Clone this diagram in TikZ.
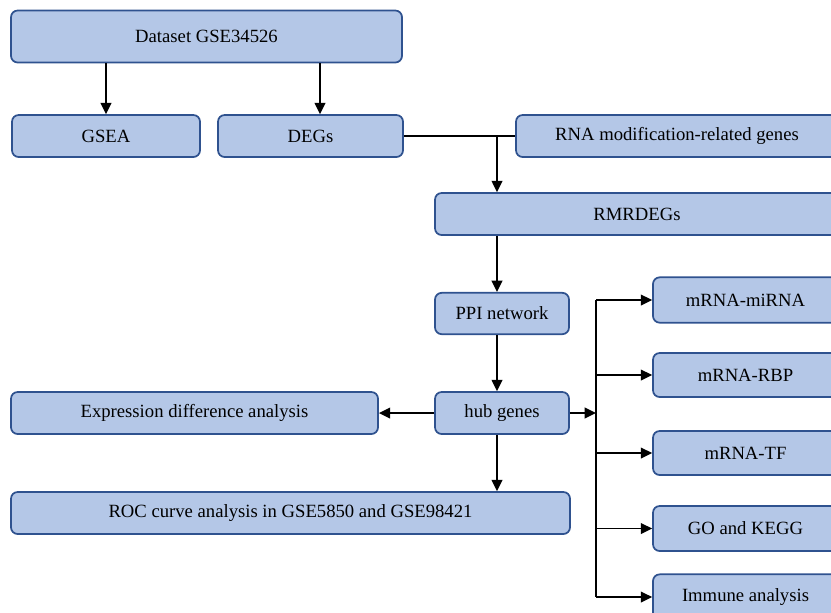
\documentclass[tikz,border=0pt]{standalone}
\usepackage{fontspec}
\setmainfont{Liberation Serif}
\usetikzlibrary{arrows.meta}
\definecolor{boxfill}{RGB}{180,199,231}
\definecolor{boxline}{RGB}{47,82,143}

\begin{document}
\begin{tikzpicture}[x=0.75pt,y=0.75pt,yscale=-1,xscale=1,
  box/.style={draw=boxline,fill=boxfill,line width=1.3pt,rounded corners=5pt,inner sep=0pt,font=\fontsize{14}{16}\selectfont},
  arr/.style={line width=1.4pt,-{Triangle[length=8.5pt,width=8pt]}},
  lin/.style={line width=1.4pt}]
%set diagram to 831 x 612
\useasboundingbox (0,0) rectangle (831,612);
\clip (0,0) rectangle (831,612);

%Rounded Rect: dataset
\node [box,minimum width=293.25pt,minimum height=39pt] (data) at (206.5,36.5) {Dataset GSE34526};
%Rounded Rect: GSEA
\node [box,minimum width=141pt,minimum height=31.5pt] (gsea) at (106,136) {GSEA};
%Rounded Rect: DEGs
\node [box,minimum width=138.75pt,minimum height=31.5pt] (degs) at (310.5,136) {DEGs};
%Rounded Rect: RNA modification
\node [box,minimum width=241.5pt,minimum height=31.5pt] (rnamod) at (677,136) {RNA modification-related genes};
%Rounded Rect: RMRDEGs
\node [box,minimum width=303pt,minimum height=31.5pt] (rmr) at (637,214) {RMRDEGs};
%Rounded Rect: PPI
\node [box,minimum width=100.5pt,minimum height=31pt] (ppi) at (502,313.5) {PPI network};
%Rounded Rect: hub genes
\node [box,minimum width=100.5pt,minimum height=31.5pt] (hub) at (502,413) {hub genes};
%Rounded Rect: expression
\node [box,minimum width=275.25pt,minimum height=31.5pt] (expr) at (194.5,413) {Expression difference analysis};
%Rounded Rect: ROC
\node [box,minimum width=419.25pt,minimum height=31.5pt] (roc) at (290.5,513) {ROC curve analysis in GSE5850 and GSE98421};
%Rounded Rect: right column
\node [box,minimum width=138.75pt,minimum height=34pt] (mirna) at (745.5,300) {mRNA-miRNA};
\node [box,minimum width=138.75pt,minimum height=33pt] (rbp) at (745.5,375) {mRNA-RBP};
\node [box,minimum width=138.75pt,minimum height=33pt] (tf) at (745.5,453) {mRNA-TF};
\node [box,minimum width=138.75pt,minimum height=33.75pt] (go) at (745.5,528.5) {GO and KEGG};
\node [box,minimum width=138.75pt,minimum height=34pt] (immune) at (745.5,597) {Immune analysis};

%Straight Lines: top split
\path (degs.north) ++(9.5,0) coordinate (degsin);
\draw [arr] (data.south -| gsea.north) -- (gsea.north);
\draw [arr] (data.south -| degsin) -- (degsin);
%Straight Lines: merge
\coordinate (merge) at (497,136);
\draw [lin] (degs.east) -- (rnamod.west);
\draw [arr] (merge) -- (merge |- rmr.north);
\draw [arr] (merge |- rmr.south) -- (merge |- ppi.north);
\draw [arr] (merge |- ppi.south) -- (merge |- hub.north);
\draw [arr] (hub.west) -- (expr.east);
\draw [arr] (merge |- hub.south) -- (merge |- roc.north);
%Straight Lines: trunk
\coordinate (split) at (596,413);
\draw [arr] (hub.east) -- (split);
\draw [lin] (split |- mirna.west) -- (split |- immune.west);
\foreach \n in {mirna,rbp,tf,go,immune}
  \draw [arr] (split |- \n.west) -- (\n.west);

\end{tikzpicture}
\end{document}
